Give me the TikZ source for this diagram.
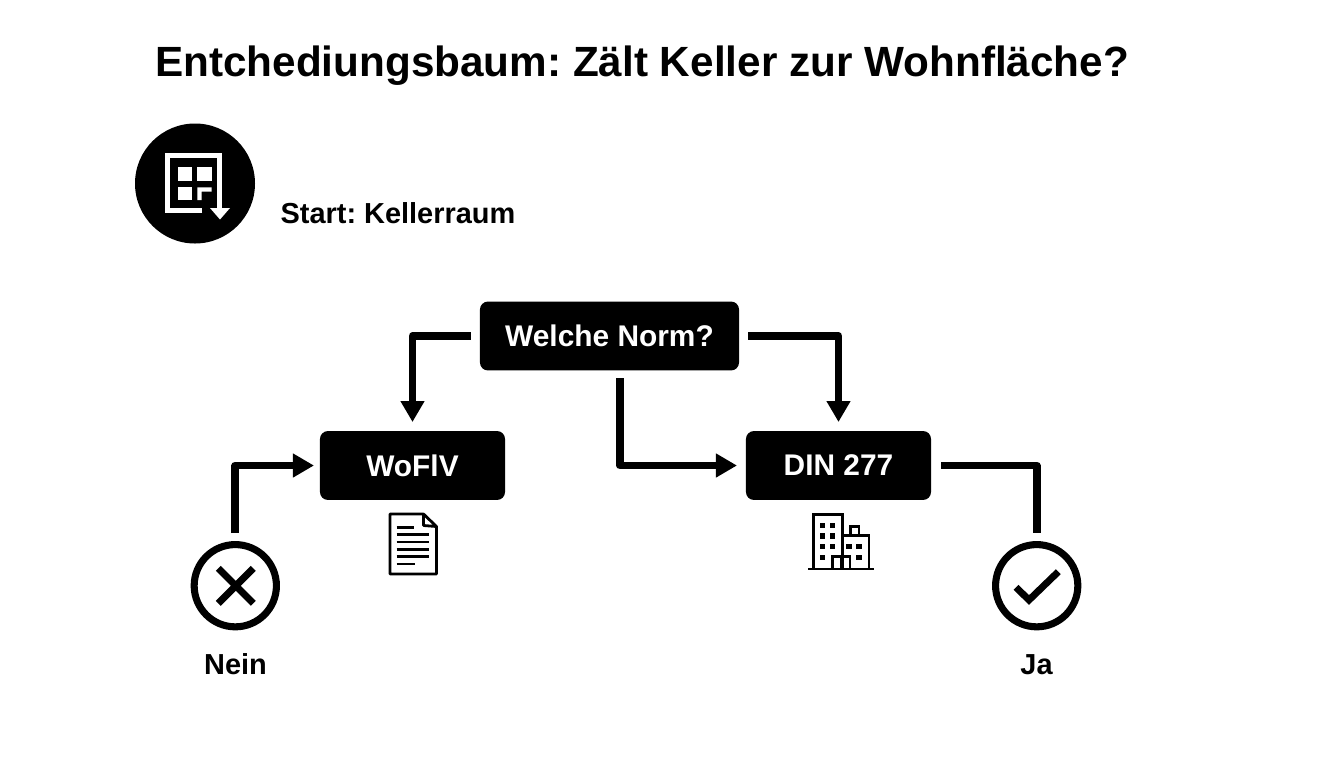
\documentclass[tikz,border=0pt]{standalone}
\usepackage{fontspec}
\setmainfont{Liberation Sans}
\usetikzlibrary{arrows.meta,calc}
\tikzset{
 flow/.style={line width=5.8pt,line join=round},
 arrowed/.style={-{Triangle[length=15.75pt,width=17pt]}},
 box/.style={fill=black,text=white,rounded corners=6pt,inner sep=0pt,outer sep=0pt,
   minimum height=51.7pt,font=\fontsize{22.4}{24}\bfseries},
 ring/.style={draw,circle,line width=5.3pt,minimum size=61.7pt,inner sep=0pt},
 caption/.style={anchor=base,font=\fontsize{21.7}{24}\bfseries},
 glyph/.style={line width=5.2pt},
 thin icon/.style={line width=2.1pt}
}
\frenchspacing
\begin{document}
\begin{tikzpicture}[x=0.75pt,y=-0.75pt]
\useasboundingbox (0,0) rectangle (1344,768);

\path (642,76) node[anchor=base,font=\fontsize{31.7}{36}\bfseries,name=title] {Entchediungsbaum: Zält Keller zur Wohnfläche?};
\path (398,223) node[caption,name=start] {Start: Kellerraum};

% start icon
\path (195,183.5) node[circle,fill=black,minimum size=90pt,inner sep=0pt,name=icon] {};
\draw[white,line width=3.8pt] (202,210.5) -- (167.5,210.5) -- (167.5,155.5) -- (219.5,155.5) -- (219.5,209);
\fill[white] (210,208) -- (230,208) -- (220,219.5) -- cycle;
\fill[white] (178.3,167.3) rectangle (191.7,180.7);
\fill[white] (197.3,167.3) rectangle (211.7,180.7);
\fill[white] (178.3,187.3) rectangle (191.7,200);
\fill[white] (197.3,187.3) -- (211.7,187.3) -- (211.7,191.7) -- (201.7,191.7) -- (201.7,200) -- (197.3,200) -- cycle;

\path (609.5,336) node[box,minimum width=194.3pt,name=norm] {Welche Norm?};
\path (412.5,465.5) node[box,minimum width=138.8pt,name=woflv] {WoFlV};
\path (838.5,465.5) node[box,minimum width=138.8pt,name=din] {DIN 277};

\path (235.3,585.7) node[ring,name=nein] {};
\path (1036.7,585.7) node[ring,name=ja] {};
\path (235.5,674.5) node[caption,name=neintext] {Nein};
\path (1036.5,674.5) node[caption,name=jatext] {Ja};

\draw[flow,arrowed,shorten <=6.75pt,shorten >=6.75pt] (norm.west) -| (woflv.north);
\draw[flow,arrowed,shorten <=6.75pt,shorten >=6.75pt] (norm.east) -| (din.north);
\draw[flow,arrowed,shorten <=6pt,shorten >=6.75pt] ($(norm.south)+(10.5,0)$) |- (din.west);
\draw[flow,arrowed,shorten <=6pt,shorten >=4.5pt] (nein.north) |- (woflv.west);
\draw[flow,shorten <=7.5pt,shorten >=6pt] (din.east) -| (ja.north);

% cross and check
\draw[glyph] (218.3,568.3) -- (253.3,603.3);
\draw[glyph] (253.3,568.3) -- (218.3,603.3);
\draw[glyph] (1016,587.3) -- (1029,600) -- (1058.3,571.7);

% document
\draw[thin icon,line join=round] (423.5,514) -- (390,514) -- (390,574) -- (436.5,574) -- (436.5,526.5) -- (423.5,514) -- (423.5,525.5) -- (436.5,526.5);
\foreach \ly/\lx in {527.3/414,534.7/429.3,542/429.3,549.3/429.3,556.7/429.3,564/415}
  \draw[thin icon] (396.7,\ly) -- (\lx,\ly);

% buildings
\draw[thin icon] (808.3,569) -- (874,569);
\draw[thin icon] (813.8,569) -- (813.8,514.8) -- (842.7,514.8) -- (842.7,569);
\draw[thin icon] (842.7,535.7) -- (869,535.7) -- (869,569);
\draw[thin icon] (850.7,535.7) -- (850.7,526.7) -- (859,526.7) -- (859,535.7);
\draw[thin icon] (832.3,569) -- (832.3,556.7) -- (850,556.7) -- (850,569);
\draw[thin icon] (841,556.7) -- (841,569);
\foreach \wx/\wy in {822.7/525.3,832.7/525.3,822.7/536,832.7/536,822.7/546.7,832.7/546.7,822.7/557.3,849/546.3,859/546.3,859/557.3}
  \fill (\wx-2.6,\wy-2.6) rectangle (\wx+2.6,\wy+2.6);
\end{tikzpicture}
\end{document}
